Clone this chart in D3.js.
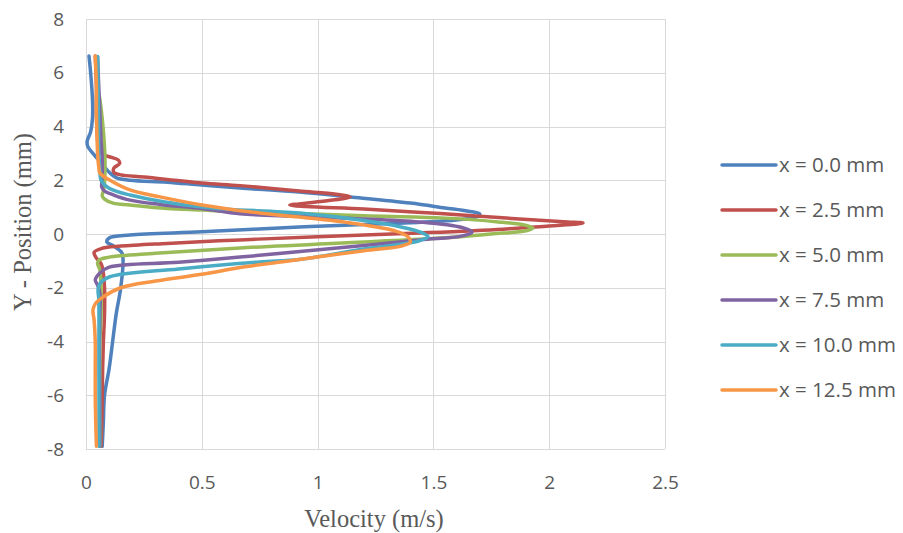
<!DOCTYPE html>
<html>
<head>
<meta charset="utf-8">
<script src="https://cdn.jsdelivr.net/npm/d3@7"></script>
<style>
  html, body { margin: 0; padding: 0; background: #fff; }
  svg { display: block; }
  .tick-label { font-family: "Open Sans", "Noto Sans", sans-serif; }
  .axis-title { font-family: "Liberation Serif", "Times New Roman", serif; }
</style>
</head>
<body>
<svg id="chart" width="903" height="533"></svg>
<script>
// Velocity profiles across the channel at several downstream stations
const seriesNames = ["x = 0.0 mm", "x = 2.5 mm", "x = 5.0 mm", "x = 7.5 mm", "x = 10.0 mm", "x = 12.5 mm"];
const seriesColors = ["#4F81BD", "#C0504D", "#9BBB59", "#8064A2", "#4BACC6", "#F79646"];

const xTicks = [0, 0.5, 1, 1.5, 2, 2.5];
const yTicks = [8, 6, 4, 2, 0, -2, -4, -6, -8];

// x = 0.0 mm
const vel0 = [0.013, 0.02, 0.028, 0.028, 0.02, 0.005, 0.008, 0.03, 0.07, 0.1, 0.13, 0.19, 0.35, 0.5, 0.665, 0.92, 1.14, 1.4, 1.55, 1.65, 1.70, 1.69, 1.6, 1.45, 1.26, 0.92, 0.5, 0.19, 0.1, 0.09, 0.12, 0.155, 0.16, 0.15, 0.13, 0.115, 0.1, 0.08, 0.075, 0.07];
const pos0 = [6.62, 6.0, 5.0, 4.3, 3.8, 3.45, 3.25, 3.0, 2.6, 2.3, 2.1, 2.0, 1.93, 1.82, 1.71, 1.56, 1.38, 1.15, 0.97, 0.85, 0.75, 0.65, 0.52, 0.44, 0.37, 0.26, 0.08, -0.04, -0.15, -0.3, -0.45, -0.7, -1.0, -2.0, -3.0, -4.0, -5.0, -6.0, -7.0, -7.9];

// x = 2.5 mm
const vel25 = [0.04, 0.045, 0.045, 0.05, 0.055, 0.075, 0.11, 0.14, 0.145, 0.12, 0.12, 0.15, 0.25, 0.5, 0.665, 0.92, 1.08, 1.14, 1.1, 1.0, 0.92, 0.88, 0.95, 1.2, 1.53, 1.87, 2.08, 2.146, 2.12, 2.0, 1.8, 1.44, 1.0, 0.665, 0.35, 0.15, 0.07, 0.035, 0.045, 0.065, 0.073, 0.08, 0.08, 0.075, 0.072, 0.07, 0.068, 0.065];
const pos25 = [6.62, 5.5, 4.5, 3.5, 3.1, 2.95, 2.85, 2.75, 2.62, 2.45, 2.3, 2.2, 2.12, 1.9, 1.8, 1.6, 1.48, 1.38, 1.3, 1.2, 1.12, 1.08, 1.02, 0.93, 0.76, 0.56, 0.45, 0.41, 0.37, 0.3, 0.18, 0.04, -0.1, -0.22, -0.35, -0.45, -0.53, -0.68, -0.9, -1.1, -1.34, -2.0, -3.0, -4.0, -5.0, -6.0, -7.0, -7.9];

// x = 5.0 mm
const vel50 = [0.045, 0.05, 0.06, 0.07, 0.078, 0.082, 0.082, 0.08, 0.075, 0.07, 0.08, 0.117, 0.19, 0.35, 0.5, 0.665, 0.92, 1.2, 1.53, 1.78, 1.9, 1.93, 1.9, 1.75, 1.53, 0.665, 0.3, 0.1, 0.06, 0.05, 0.06, 0.065, 0.065, 0.06, 0.06, 0.06, 0.062, 0.062];
const pos50 = [6.6, 5.5, 5.0, 4.3, 3.5, 2.8, 2.38, 1.9, 1.6, 1.42, 1.3, 1.15, 1.08, 0.95, 0.89, 0.82, 0.76, 0.68, 0.6, 0.45, 0.32, 0.22, 0.12, 0.0, -0.15, -0.52, -0.72, -0.86, -0.95, -1.08, -1.34, -2.0, -3.0, -4.0, -5.0, -6.0, -7.0, -7.9];

// x = 7.5 mm
const vel75 = [0.05, 0.055, 0.06, 0.065, 0.07, 0.07, 0.068, 0.068, 0.08, 0.12, 0.19, 0.32, 0.5, 0.665, 0.92, 1.15, 1.44, 1.62, 1.667, 1.62, 1.44, 1.05, 0.665, 0.4, 0.1, 0.06, 0.04, 0.05, 0.06, 0.06, 0.058, 0.058, 0.06, 0.06, 0.06];
const pos75 = [6.6, 5.5, 4.5, 3.5, 2.8, 2.2, 1.9, 1.75, 1.6, 1.45, 1.26, 1.1, 0.95, 0.75, 0.66, 0.58, 0.45, 0.25, 0.07, -0.08, -0.22, -0.55, -0.86, -1.05, -1.23, -1.45, -1.71, -1.9, -2.2, -3.0, -4.0, -5.0, -6.0, -7.0, -7.9];

// x = 10.0 mm
const vel100 = [0.05, 0.052, 0.054, 0.055, 0.06, 0.065, 0.1, 0.19, 0.5, 0.92, 1.2, 1.36, 1.45, 1.477, 1.44, 1.3, 1.2, 0.92, 0.75, 0.4, 0.1, 0.06, 0.052, 0.055, 0.056, 0.056, 0.056, 0.056, 0.056];
const pos100 = [6.6, 5.5, 4.5, 3.0, 2.38, 2.0, 1.7, 1.45, 1.0, 0.78, 0.5, 0.26, 0.05, -0.1, -0.25, -0.45, -0.56, -0.95, -1.04, -1.3, -1.6, -1.85, -2.08, -2.4, -3.0, -4.0, -5.0, -6.0, -7.9];

// x = 12.5 mm
const vel125 = [0.04, 0.045, 0.045, 0.048, 0.05, 0.055, 0.06, 0.104, 0.19, 0.32, 0.5, 0.75, 0.92, 1.15, 1.34, 1.39, 1.40, 1.36, 1.2, 0.92, 0.665, 0.5, 0.3, 0.15, 0.073, 0.04, 0.03, 0.035, 0.04, 0.04, 0.04, 0.042, 0.045];
const pos125 = [6.62, 5.5, 4.5, 3.5, 3.0, 2.5, 2.27, 2.0, 1.64, 1.38, 1.08, 0.78, 0.63, 0.4, 0.1, -0.1, -0.3, -0.45, -0.62, -0.95, -1.25, -1.5, -1.75, -2.0, -2.35, -2.6, -2.83, -3.2, -4.0, -5.0, -6.0, -7.0, -7.9];

const velocities = [vel0, vel25, vel50, vel75, vel100, vel125];
const positions = [pos0, pos25, pos50, pos75, pos100, pos125];

const svg = d3.select("#chart");
const plot = { left: 86, top: 19, right: 665, bottom: 449 };

const x = d3.scaleLinear().domain([0, 2.5]).range([plot.left, plot.right]);
const y = d3.scaleLinear().domain([-8, 8]).range([plot.bottom, plot.top]);

const textColor = "#595959";
const plainNumber = d => String(d);

// Gridlines
const grid = svg.append("g");
grid.selectAll("line.h").data(yTicks).join("line")
  .attr("x1", plot.left).attr("x2", plot.right)
  .attr("y1", d => Math.round(y(d)) + 0.5).attr("y2", d => Math.round(y(d)) + 0.5)
  .attr("stroke", "#d9d9d9").attr("stroke-width", 1);
grid.selectAll("line.v").data(xTicks).join("line")
  .attr("y1", plot.top).attr("y2", plot.bottom)
  .attr("x1", d => Math.round(x(d)) + 0.5).attr("x2", d => Math.round(x(d)) + 0.5)
  .attr("stroke", "#d9d9d9").attr("stroke-width", 1);

// Axes (labels only; lines come from the grid)
const xAxis = svg.append("g")
  .attr("transform", `translate(0,${plot.bottom})`)
  .call(d3.axisBottom(x).tickValues(xTicks).tickSize(0).tickPadding(27).tickFormat(plainNumber));
xAxis.select(".domain").remove();
xAxis.attr("font-family", null);
xAxis.selectAll("text").attr("class", "tick-label").attr("font-size", "19px").attr("fill", textColor);

const yAxis = svg.append("g")
  .attr("transform", `translate(${plot.left},0)`)
  .call(d3.axisLeft(y).tickValues(yTicks).tickSize(0).tickPadding(22).tickFormat(plainNumber));
yAxis.select(".domain").remove();
yAxis.attr("font-family", null);
yAxis.selectAll("text").attr("class", "tick-label").attr("font-size", "19px").attr("fill", textColor);

// Axis titles
svg.append("text")
  .attr("class", "axis-title")
  .attr("x", 374).attr("y", 527)
  .attr("text-anchor", "middle")
  .attr("font-size", "24.5px").attr("fill", textColor)
  .text("Velocity (m/s)");
svg.append("text")
  .attr("class", "axis-title")
  .attr("transform", "translate(31,222) rotate(-90)")
  .attr("text-anchor", "middle")
  .attr("font-size", "24.5px").attr("fill", textColor)
  .text("Y - Position (mm)");

// Profile curves
const line = d3.line()
  .x(d => x(d[0]))
  .y(d => y(d[1]))
  .curve(d3.curveCatmullRom.alpha(0.5));

const curves = svg.append("g");
seriesNames.forEach((name, i) => {
  const pts = velocities[i].map((v, k) => [v, positions[i][k]]);
  curves.append("path")
    .datum(pts)
    .attr("d", line)
    .attr("fill", "none")
    .attr("stroke", seriesColors[i])
    .attr("stroke-width", 3.5)
    .attr("stroke-linejoin", "round")
    .attr("stroke-linecap", "round");
});

// Legend
const legend = svg.append("g");
seriesNames.forEach((name, i) => {
  const ly = 165 + i * 45;
  legend.append("line")
    .attr("x1", 722).attr("x2", 776).attr("y1", ly).attr("y2", ly)
    .attr("stroke", seriesColors[i]).attr("stroke-width", 3.5).attr("stroke-linecap", "round");
  legend.append("text")
    .attr("class", "tick-label")
    .attr("x", 779).attr("y", ly + 7)
    .attr("font-size", "20.5px").attr("fill", textColor)
    .text(name);
});
</script>
</body>
</html>
